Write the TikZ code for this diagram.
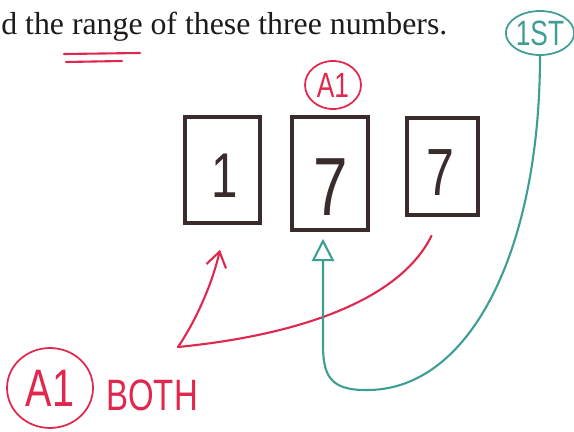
\documentclass[tikz,border=0pt]{standalone}
\usepackage{fontspec}
\setmainfont{Liberation Serif}
\newfontfamily\handfont[FakeStretch=0.75]{Liberation Sans}
\usetikzlibrary{arrows.meta,shapes.geometric,calc}
\definecolor{ink}{HTML}{1E1A1A}
\definecolor{boxpen}{HTML}{3A2C2C}
\definecolor{redpen}{HTML}{E0284F}
\definecolor{tealpen}{HTML}{3E9E93}

\begin{document}
\begin{tikzpicture}[
  x=0.02cm, y=-0.02cm,
  card/.style={draw=boxpen, line width=2pt, inner sep=0pt},
  digit/.style={text=boxpen, inner sep=0pt},
  tag/.style={ellipse, draw=redpen, line width=1pt, inner sep=0pt, text=redpen},
  pen/.style={draw=redpen, line width=1.2pt, line cap=round},
  tealline/.style={draw=tealpen, line width=1.2pt, line cap=round},
]
\useasboundingbox (0,0) rectangle (574,432);
% question line
\node[anchor=base west, inner sep=0pt, text=ink, font=\fontsize{18.1}{20}\selectfont] (title) at (1,35) {d the range of these three numbers.};
\draw[pen] (64,54) -- (140,53);
\draw[pen] (66,62) -- (122,61);
% the three numbers
\node[card, minimum width=1.5cm, minimum height=2.12cm] (box1) at (222.5,170) {};
\node[card, minimum width=1.52cm, minimum height=2.26cm] (box2) at (330,173.5) {};
\node[card, minimum width=1.42cm, minimum height=1.94cm] (box3) at (442.5,166.5) {};
\node[digit, font=\handfont\fontsize{36}{36}\selectfont] (d1) at (225,176) {1};
\node[digit, font=\handfont\fontsize{47}{47}\selectfont] (d2) at (331,187) {7};
\node[digit, font=\handfont\fontsize{38}{38}\selectfont] (d3) at (440,173) {7};
% marks
\node[tag, minimum width=1.12cm, minimum height=0.96cm, font=\handfont\fontsize{20}{20}\selectfont] (acc) at (333,85) {A1};
\node[tag, minimum width=1.72cm, minimum height=1.6cm, font=\handfont\fontsize{30}{30}\selectfont] (mark) at (50,388) {A1};
\node[anchor=west, inner sep=0pt, text=redpen, font=\handfont\fontsize{25}{25}\selectfont] (both) at (106,395) {BOTH};
\node[ellipse, draw=tealpen, line width=1pt, inner sep=0pt, text=tealpen, minimum width=1.32cm, minimum height=0.88cm, font=\handfont\fontsize{20}{20}\selectfont] (first) at (540,33) {1ST};
% red: both ones
\coordinate (fork) at (178,347);
\draw[pen, -{Straight Barb[length=3mm,width=4mm]}] (fork) .. controls (195,322) and (212,285) .. ([xshift=-0.05cm,yshift=-0.5cm]box1.south);
\draw[pen] (fork) .. controls (300,335) and (400,300) .. ($(box3.south)+(-11,19)$);
% teal: first
\draw[tealline, -{Triangle[open,length=4.5mm,width=4.5mm]}] (first.south) .. controls (540,250) and (470,392) .. (365,390) .. controls (330,390) and (323,375) .. (323,345) -- ($(box2.south)+(-7,7)$);
\end{tikzpicture}
\end{document}
